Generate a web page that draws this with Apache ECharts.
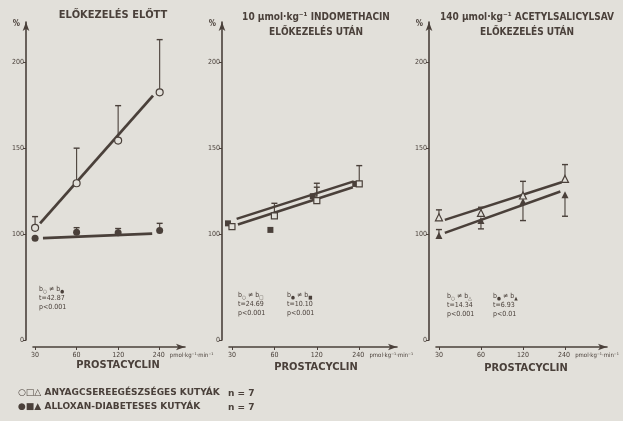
<!DOCTYPE html>
<html><head><meta charset="utf-8">
<script src="https://cdn.jsdelivr.net/npm/echarts@6/dist/echarts.min.js"></script>
<style>html,body{margin:0;padding:0;background:#e2e0da}#c{width:623px;height:421px}</style>
</head><body><div id="c"></div>
<script>
// ---- data ----
const doseLabels = ['30', '60', '120', '240'];
const doseIdx = [0, 1, 2, 3];
const yTickValues = [39, 100, 150, 200];
const unitText = 'pmol·kg⁻¹·min⁻¹';

// Panel 1: before pretreatment (circles)
const p1Healthy = [103.9, 129.7, 154.4, 182.3];
const p1Diabetic = [97.9, 101.3, 101.0, 102.3];
const p1HealthyErr = [[0, 103.9, 110.4], [1, 129.7, 150.0], [2, 154.4, 174.6], [3, 182.3, 212.8]];
const p1DiabeticErr = [[1, 101.3, 104.0], [2, 101.0, 103.5], [3, 102.3, 106.5]];
const p1HealthyFit = [[0.12, 106.5], [2.84, 180.4]];
const p1DiabeticFit = [[0.19, 97.9], [2.82, 100.6]];

// Panel 2: after indomethacin (squares)
const p2Healthy = [104.6, 110.8, 119.7, 129.3];
const p2Diabetic = [106.5, 102.7, 122.2, 129.3];
const p2HealthyErr = [[1, 110.8, 118.1], [2, 119.7, 129.7], [3, 129.3, 139.9]];
const p2DiabeticErr = [[2, 122.2, 127.4]];
const p2HealthyFit = [[0.14, 105.8], [2.85, 127.4]];
const p2DiabeticFit = [[0.11, 109.1], [2.87, 130.8]];

// Panel 3: after acetylsalicylic acid (triangles)
const p3Healthy = [110.0, 112.5, 122.6, 132.2];
const p3Diabetic = [99.4, 108.1, 119.1, 123.1];
const p3HealthyErr = [[0, 110.0, 114.3], [1, 112.5, 115.8], [2, 122.6, 130.8], [3, 132.2, 140.5]];
const p3DiabeticErr = [[0, 99.4, 102.9], [1, 108.1, 103.3], [2, 119.1, 108.1], [3, 123.1, 110.6]];
const p3HealthyFit = [[0.14, 108.5], [2.92, 130.3]];
const p3DiabeticFit = [[0.14, 101.0], [2.89, 124.9]];

const panelTitles = [
  'ELŐKEZELÉS ELŐTT',
  '10 µmol·kg⁻¹ INDOMETHACIN\nELŐKEZELÉS UTÁN',
  '140 µmol·kg⁻¹ ACETYLSALICYLSAV\nELŐKEZELÉS UTÁN'
];
const statTexts = [
  ['b{s|○} ≠ b{s|●}\nt=42.87\np<0.001'],
  ['b{s|○} ≠ b{s|□}\nt=24.69\np<0.001', 'b{s|●} ≠ b{s|■}\nt=10.10\np<0.001'],
  ['b{s|○} ≠ b{s|△}\nt=14.34\np<0.001', 'b{s|●} ≠ b{s|▲}\nt=6.93\np<0.01']
];
const xAxisTitle = 'PROSTACYCLIN';
const legendLabels = ['○□△ ANYAGCSEREEGÉSZSÉGES KUTYÁK', '●■▲ ALLOXAN-DIABETESES KUTYÁK'];
const legendN = ['n = 7', 'n = 7'];

// ---- style ----
const ink = '#4a403a';
const bg = '#e2e0da';
const font = "'DejaVu Sans Condensed', 'DejaVu Sans', sans-serif";
const wideFont = "'DejaVu Sans', sans-serif";

const grids = [
  {left: 33, top: 22, width: 152, height: 318, outerBoundsMode: 'none'},
  {left: 229, top: 22, width: 168, height: 318, outerBoundsMode: 'none'},
  {left: 436, top: 22, width: 171, height: 318, outerBoundsMode: 'none'}
];
const xRanges = [[-0.05, 3.61], [-0.07, 3.89], [-0.07, 4.0]];

const xAxes = grids.map((g, i) => ({
  type: 'value', gridIndex: i, min: xRanges[i][0], max: xRanges[i][1], offset: 7,
  axisLine: {show: true, onZero: false, lineStyle: {color: ink, width: 1.6}, symbol: ['none', 'arrow'], symbolSize: [5, 9]},
  axisTick: {show: true, customValues: doseIdx, length: 3, lineStyle: {color: ink}},
  splitLine: {show: false},
  axisLabel: {
    customValues: doseIdx, color: ink, fontFamily: font, fontSize: 7, margin: 5,
    formatter: v => v === 3 ? '{pad|}{n|240}{u|' + unitText + '}' : doseLabels[v],
    rich: {
      pad: {width: 50, fontSize: 6},
      n: {fontSize: 7, fontFamily: font, color: ink},
      u: {width: 50, fontSize: 6, fontFamily: font, color: ink, align: 'left', padding: [0, 0, 0, 2]}
    }
  }
}));
const yAxes = grids.map((g, i) => ({
  type: 'value', gridIndex: i, min: 39, max: 223, offset: 7,
  name: '%', nameLocation: 'end', nameGap: -2,
  nameTextStyle: {color: ink, fontFamily: font, fontSize: 8, fontWeight: 'bold', align: 'right', verticalAlign: 'middle', padding: [0, 6, 0, 0]},
  axisLine: {show: true, onZero: false, lineStyle: {color: ink, width: 1.6}, symbol: ['none', 'arrow'], symbolSize: [5, 9]},
  axisTick: {show: true, customValues: yTickValues, length: 3, lineStyle: {color: ink}},
  splitLine: {show: false},
  axisLabel: {customValues: yTickValues, color: ink, fontFamily: font, fontSize: 7, margin: 2,
    formatter: v => v === 39 ? '0' : String(v)}
}));

function errRender(params, api) {
  const x = api.value(0), lo = api.value(1), hi = api.value(2);
  const a = api.coord([x, lo]), b = api.coord([x, hi]);
  return {type: 'group', children: [
    {type: 'line', shape: {x1: a[0], y1: a[1], x2: b[0], y2: b[1]}, style: {stroke: ink, lineWidth: 1.1}},
    {type: 'line', shape: {x1: b[0] - 3, y1: b[1], x2: b[0] + 3, y2: b[1]}, style: {stroke: ink, lineWidth: 1.4}}
  ]};
}
function errSeries(i, data) {
  return {type: 'custom', xAxisIndex: i, yAxisIndex: i, renderItem: errRender, data: data, z: 2, silent: true};
}
function fitSeries(i, data, w) {
  return {type: 'line', xAxisIndex: i, yAxisIndex: i, data: data, symbol: 'none', z: 3,
    lineStyle: {color: ink, width: w}, silent: true};
}
function pointSeries(i, vals, symbol, filled, size, offset) {
  return {type: 'scatter', xAxisIndex: i, yAxisIndex: i, symbol: symbol, symbolSize: size, z: 4,
    symbolOffset: offset || [0, 0],
    data: doseIdx.map((d, k) => [d, vals[k]]),
    itemStyle: filled ? {color: ink, opacity: 1} : {color: bg, borderColor: ink, borderWidth: 1.2, opacity: 1}, silent: true};
}

const series = [
  errSeries(0, p1HealthyErr), errSeries(0, p1DiabeticErr),
  fitSeries(0, p1HealthyFit, 2.8), fitSeries(0, p1DiabeticFit, 2.8),
  pointSeries(0, p1Diabetic, 'circle', true, 7), pointSeries(0, p1Healthy, 'circle', false, 7),

  errSeries(1, p2HealthyErr), errSeries(1, p2DiabeticErr),
  fitSeries(1, p2HealthyFit, 2.5), fitSeries(1, p2DiabeticFit, 2.5),
  pointSeries(1, p2Diabetic, 'rect', true, 6, [-4, 0]), pointSeries(1, p2Healthy, 'rect', false, 6),

  errSeries(2, p3HealthyErr), errSeries(2, p3DiabeticErr),
  fitSeries(2, p3HealthyFit, 2.5), fitSeries(2, p3DiabeticFit, 2.5),
  pointSeries(2, p3Diabetic, 'triangle', true, 7), pointSeries(2, p3Healthy, 'triangle', false, 7)
];

const titleBase = {color: ink, fontFamily: font, fontWeight: 'bold'};
const titles = [
  {text: panelTitles[0], left: 113, top: 10, textAlign: 'center', textStyle: Object.assign({fontSize: 11}, titleBase), padding: 0},
  {text: panelTitles[1], left: 316, top: 10, textAlign: 'center', textStyle: Object.assign({fontSize: 10, lineHeight: 15}, titleBase), padding: 0},
  {text: panelTitles[2], left: 527, top: 10, textAlign: 'center', textStyle: Object.assign({fontSize: 10, lineHeight: 15}, titleBase), padding: 0},
  {text: xAxisTitle, left: 118, top: 360, textAlign: 'center', textStyle: Object.assign({fontSize: 11}, titleBase), padding: 0},
  {text: xAxisTitle, left: 316, top: 362, textAlign: 'center', textStyle: Object.assign({fontSize: 11}, titleBase), padding: 0},
  {text: xAxisTitle, left: 526, top: 363, textAlign: 'center', textStyle: Object.assign({fontSize: 11}, titleBase), padding: 0},
  {text: legendLabels[0], left: 18, top: 388, textStyle: {color: ink, fontFamily: wideFont, fontWeight: 'bold', fontSize: 9}, padding: 0},
  {text: legendLabels[1], left: 18, top: 402, textStyle: {color: ink, fontFamily: wideFont, fontWeight: 'bold', fontSize: 9}, padding: 0},
  {text: legendN[0], left: 228, top: 389, textStyle: {color: ink, fontFamily: wideFont, fontWeight: 'bold', fontSize: 9}, padding: 0},
  {text: legendN[1], left: 228, top: 403, textStyle: {color: ink, fontFamily: wideFont, fontWeight: 'bold', fontSize: 9}, padding: 0}
];
const statPos = [[[39, 285]], [[238, 291], [287, 291]], [[447, 292], [493, 292]]];
statTexts.forEach((arr, i) => arr.forEach((t, j) => {
  titles.push({text: t, left: statPos[i][j][0], top: statPos[i][j][1], padding: 0,
    textStyle: {color: ink, fontFamily: font, fontSize: 7, lineHeight: 9, fontWeight: 'normal',
      rich: {s: {fontSize: 5, verticalAlign: 'bottom', color: ink, fontFamily: font, padding: [3, 0, 0, 0]}}}});
}));

const chart = echarts.init(document.getElementById('c'), null, {renderer: 'canvas'});
chart.setOption({
  backgroundColor: bg,
  animation: false,
  title: titles,
  grid: grids,
  xAxis: xAxes,
  yAxis: yAxes,
  series: series
});
</script></body></html>
